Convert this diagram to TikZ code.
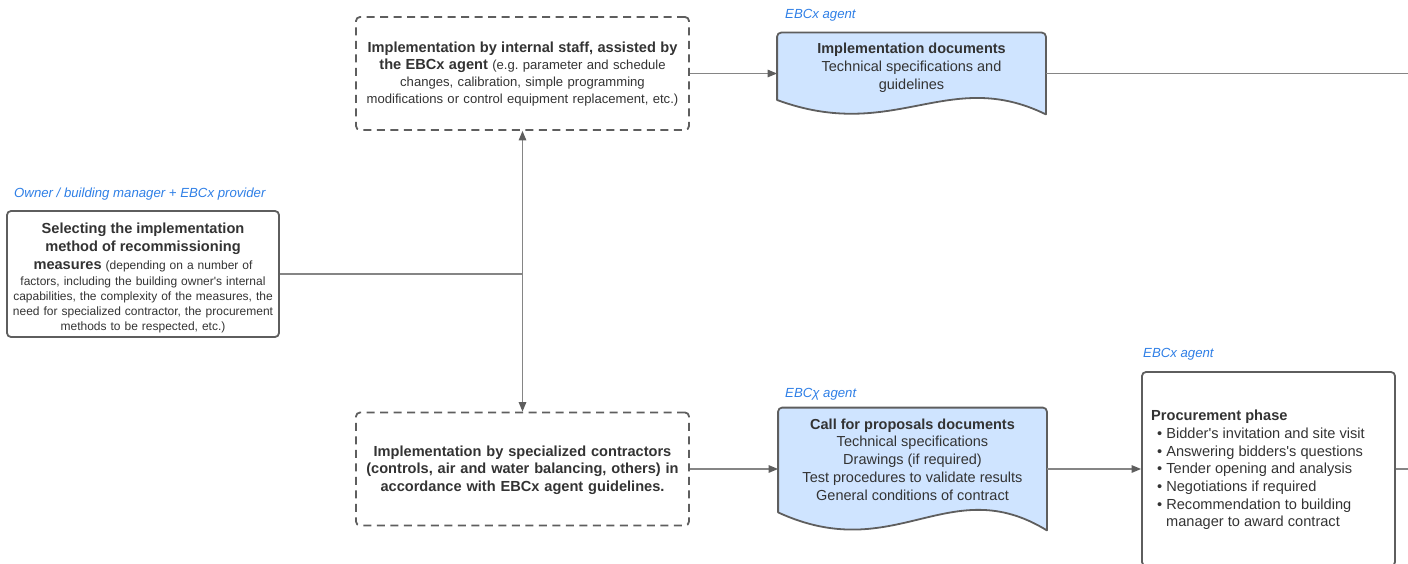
\documentclass[tikz,border=0pt]{standalone}
\usepackage{fontspec}
\setmainfont{Liberation Sans}
\usetikzlibrary{arrows.meta,calc}

\definecolor{ink}{HTML}{333333}
\definecolor{edgegray}{HTML}{5E5E5E}
\definecolor{wiregray}{HTML}{858585}
\definecolor{roleblue}{HTML}{2F7FE6}
\definecolor{docfill}{HTML}{CFE4FF}

\newcommand\bigbold{\fontsize{14.6}{17.5}\selectfont\bfseries}

% Document outline: rounded top, wavy bottom edge.
% #1 node name, #2 width (pt), #3 wave depth (pt)
\newcommand\docoutline[3]{%
  \filldraw[docedge]
    ($(#1.south west)+(0,-0.9*#3)$)
    -- ($(#1.north west)+(0,4)$) arc[start angle=180,end angle=90,radius=4pt]
    -- ($(#1.north east)+(-4,0)$) arc[start angle=90,end angle=0,radius=4pt]
    -- (#1.south east)
    .. controls ($(#1.south west)+(0.64*#2,-3*#3)$) and ($(#1.south west)+(0.44*#2,1.8*#3)$)
    .. ($(#1.south west)+(0,-0.9*#3)$) -- cycle;}

\tikzset{
  solidbox/.style={draw=edgegray, line width=1.8pt, rounded corners=4pt, text=ink, inner sep=0pt},
  dashbox/.style={draw=edgegray, line width=1.8pt, rounded corners=4pt, dash pattern=on 8pt off 5.5pt,
                  text=ink, inner sep=0pt},
  docarea/.style={draw=none, inner sep=0pt, outer sep=0.9pt},
  docedge/.style={draw=edgegray, fill=docfill, line width=1.8pt, line join=round},
  doctext/.style={text=ink, align=center, inner sep=0pt, font=\fontsize{14.5}{17.8}\selectfont},
  boxtext/.style={text=ink, align=center, inner sep=0pt},
  rolelabel/.style={text=roleblue, anchor=west, inner sep=0pt, font=\fontsize{13.2}{15}\selectfont\itshape},
  wire/.style={draw=wiregray, line width=1.3pt},
  flow/.style={wire, -{Triangle[length=9.5pt,width=7.5pt,color=edgegray,fill=edgegray]}},
}

\begin{document}
\begin{tikzpicture}[x=1pt, y=-1pt]
\useasboundingbox (0,0) rectangle (1408,564);

% Decision box
\node[rolelabel] (ownerlbl) at (14,194.5) {Owner / building manager + EBCx provider};
\node[solidbox, minimum width=272pt, minimum height=126pt] (select) at (143,274) {};
\node[boxtext, text width=264pt, font=\fontsize{12}{15}\selectfont] (selecttxt) at (143,278)
  {{\bigbold Selecting the implementation}\\[3pt]
   {\bigbold method of recommissioning}\\[3pt]
   {\bigbold measures} (depending on a number of\\[1pt]
   factors, including the building owner\textquotesingle s internal\\
   capabilities, the complexity of the measures, the\\
   need for specialized contractor, the procurement\\
   methods to be respected, etc.)};

% Implementation options
\node[dashbox, minimum width=333pt, minimum height=113pt] (inhouse) at (522.5,73.5) {};
\node[boxtext, text width=330pt, font=\fontsize{13.1}{17}\selectfont] (inhousetxt) at (522.5,74.5)
  {{\bigbold Implementation by internal staff, assisted by}\\
   {\bigbold the EBCx agent} (e.g.\ parameter and schedule\\
   changes, calibration, simple programming\\
   modifications or control equipment replacement, etc.)};

\node[dashbox, minimum width=333pt, minimum height=113pt] (contract) at (522.5,469) {};
\node[boxtext, text width=330pt, font=\bigbold] (contracttxt) at (522.5,470)
  {Implementation by specialized contractors\\
   (controls, air and water balancing, others) in\\
   accordance with EBCx agent guidelines.};

% Documents
\node[rolelabel] (implbl) at (785,15.5) {EBCx agent};
\node[docarea, minimum width=267pt, minimum height=80pt] (impdoc) at (911.5,73.5) {};
\docoutline{impdoc}{267}{16}
\node[doctext] (impdoctxt) at (911.5,68)
  {\textbf{Implementation documents}\\
   Technical specifications and\\
   guidelines};

\node[rolelabel] (cfplbl) at (785,394.5) {EBCχ agent};
\node[docarea, minimum width=267pt, minimum height=121pt] (cfpdoc) at (912.5,469) {};
\docoutline{cfpdoc}{267}{20}
\node[doctext] (cfpdoctxt) at (912.5,459.5)
  {\textbf{Call for proposals documents}\\
   Technical specifications\\
   Drawings (if required)\\
   Test procedures to validate results\\
   General conditions of contract};

% Procurement
\node[rolelabel] (proclbl) at (1143,354.5) {EBCx agent};
\node[solidbox, minimum width=253pt, minimum height=194pt] (proc) at (1268.5,469) {};
\node[anchor=west, align=left, text=ink, inner sep=0pt, font=\fontsize{14.6}{17.7}\selectfont]
  (proctxt) at (1151,470)
  {\textbf{Procurement phase}\\
   \hspace*{6pt}\textbullet\hspace{4pt}Bidder\textquotesingle s invitation and site visit\\
   \hspace*{6pt}\textbullet\hspace{4pt}Answering bidders\textquotesingle s questions\\
   \hspace*{6pt}\textbullet\hspace{4pt}Tender opening and analysis\\
   \hspace*{6pt}\textbullet\hspace{4pt}Negotiations if required\\
   \hspace*{6pt}\textbullet\hspace{4pt}Recommendation to building\\
   \hspace*{15pt}manager to award contract};

% Connectors
\coordinate (split) at (select.east -| inhouse.south);
\coordinate (exitA) at (1408,73.5);
\coordinate (exitB) at (1408,469);
\draw[wire] (select.east) -- (split);
\draw[flow] (split) -- (inhouse.south);
\draw[flow] (split) -- (contract.north);
\draw[flow] (inhouse.east) -- (impdoc.west);
\draw[wire] (impdoc.east) -- (exitA);
\draw[flow] (contract.east) -- (cfpdoc.west);
\draw[flow] (cfpdoc.east) -- (proc.west);
\draw[wire] (proc.east) -- (exitB);
\end{tikzpicture}
\end{document}
